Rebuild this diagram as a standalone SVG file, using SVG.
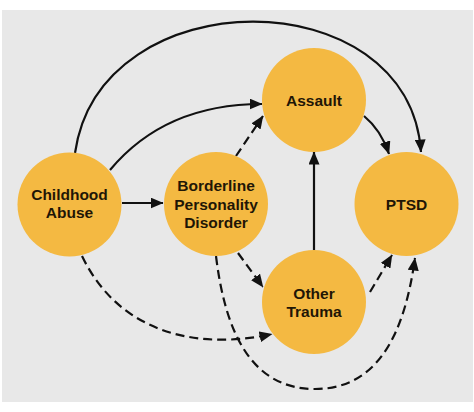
<svg xmlns="http://www.w3.org/2000/svg" width="474" height="412" viewBox="0 0 474 412">
  <defs>
    <marker id="arrow" viewBox="0 0 13 11" markerWidth="13" markerHeight="11" refX="12.5" refY="5.5" orient="auto" markerUnits="userSpaceOnUse">
      <path d="M0,0 L13,5.5 L0,11 z" fill="#111"/>
    </marker>
    <style>
      .bg { fill: #e8e8e8; }
      .node { fill: #f4b942; }
      .label { font-family: "Liberation Sans", Arial, sans-serif; font-weight: 700; font-size: 15.5px; fill: #1f1606; text-anchor: middle; }
      .edge { fill: none; stroke: #111; stroke-width: 2.2; marker-end: url(#arrow); }
      .dashed { stroke-dasharray: 9 5; }
    </style>
  </defs>
  <rect class="bg" x="2" y="10" width="471" height="392"/>
  <g id="connectors">
    <path class="edge" d="M75,153 C100,-22 409,-22 421,152"/>
    <path class="edge" d="M110,170 Q165,104 262,104"/>
    <path class="edge" d="M122,203 L163,203"/>
    <path class="edge dashed" d="M236,156 L263,116"/>
    <path class="edge" d="M364,116 Q381,130 389,154"/>
    <path class="edge" d="M314,250 L314,152"/>
    <path class="edge dashed" d="M238,253 L263,287"/>
    <path class="edge dashed" d="M82,256 C120,335 200,350 272,334"/>
    <path class="edge dashed" d="M216,256 C225,330 250,389 315,389 C380,389 405,330 415,258"/>
    <path class="edge dashed" d="M370,292 L392,255"/>
  </g>
  <g id="node-childhood">
    <circle class="node" cx="69.5" cy="204.5" r="52"/>
    <text class="label" x="69.5" y="200">Childhood</text>
    <text class="label" x="69.5" y="218">Abuse</text>
  </g>
  <g id="node-borderline">
    <circle class="node" cx="216" cy="204" r="52"/>
    <text class="label" x="216" y="191">Borderline</text>
    <text class="label" x="216" y="209.5">Personality</text>
    <text class="label" x="216" y="228">Disorder</text>
  </g>
  <g id="node-assault">
    <circle class="node" cx="314" cy="100" r="52"/>
    <text class="label" x="314" y="106">Assault</text>
  </g>
  <g id="node-ptsd">
    <circle class="node" cx="406.5" cy="204" r="52"/>
    <text class="label" x="406.5" y="209.5">PTSD</text>
  </g>
  <g id="node-other">
    <circle class="node" cx="314" cy="302" r="52"/>
    <text class="label" x="314" y="299">Other</text>
    <text class="label" x="314" y="317">Trauma</text>
  </g>
</svg>
